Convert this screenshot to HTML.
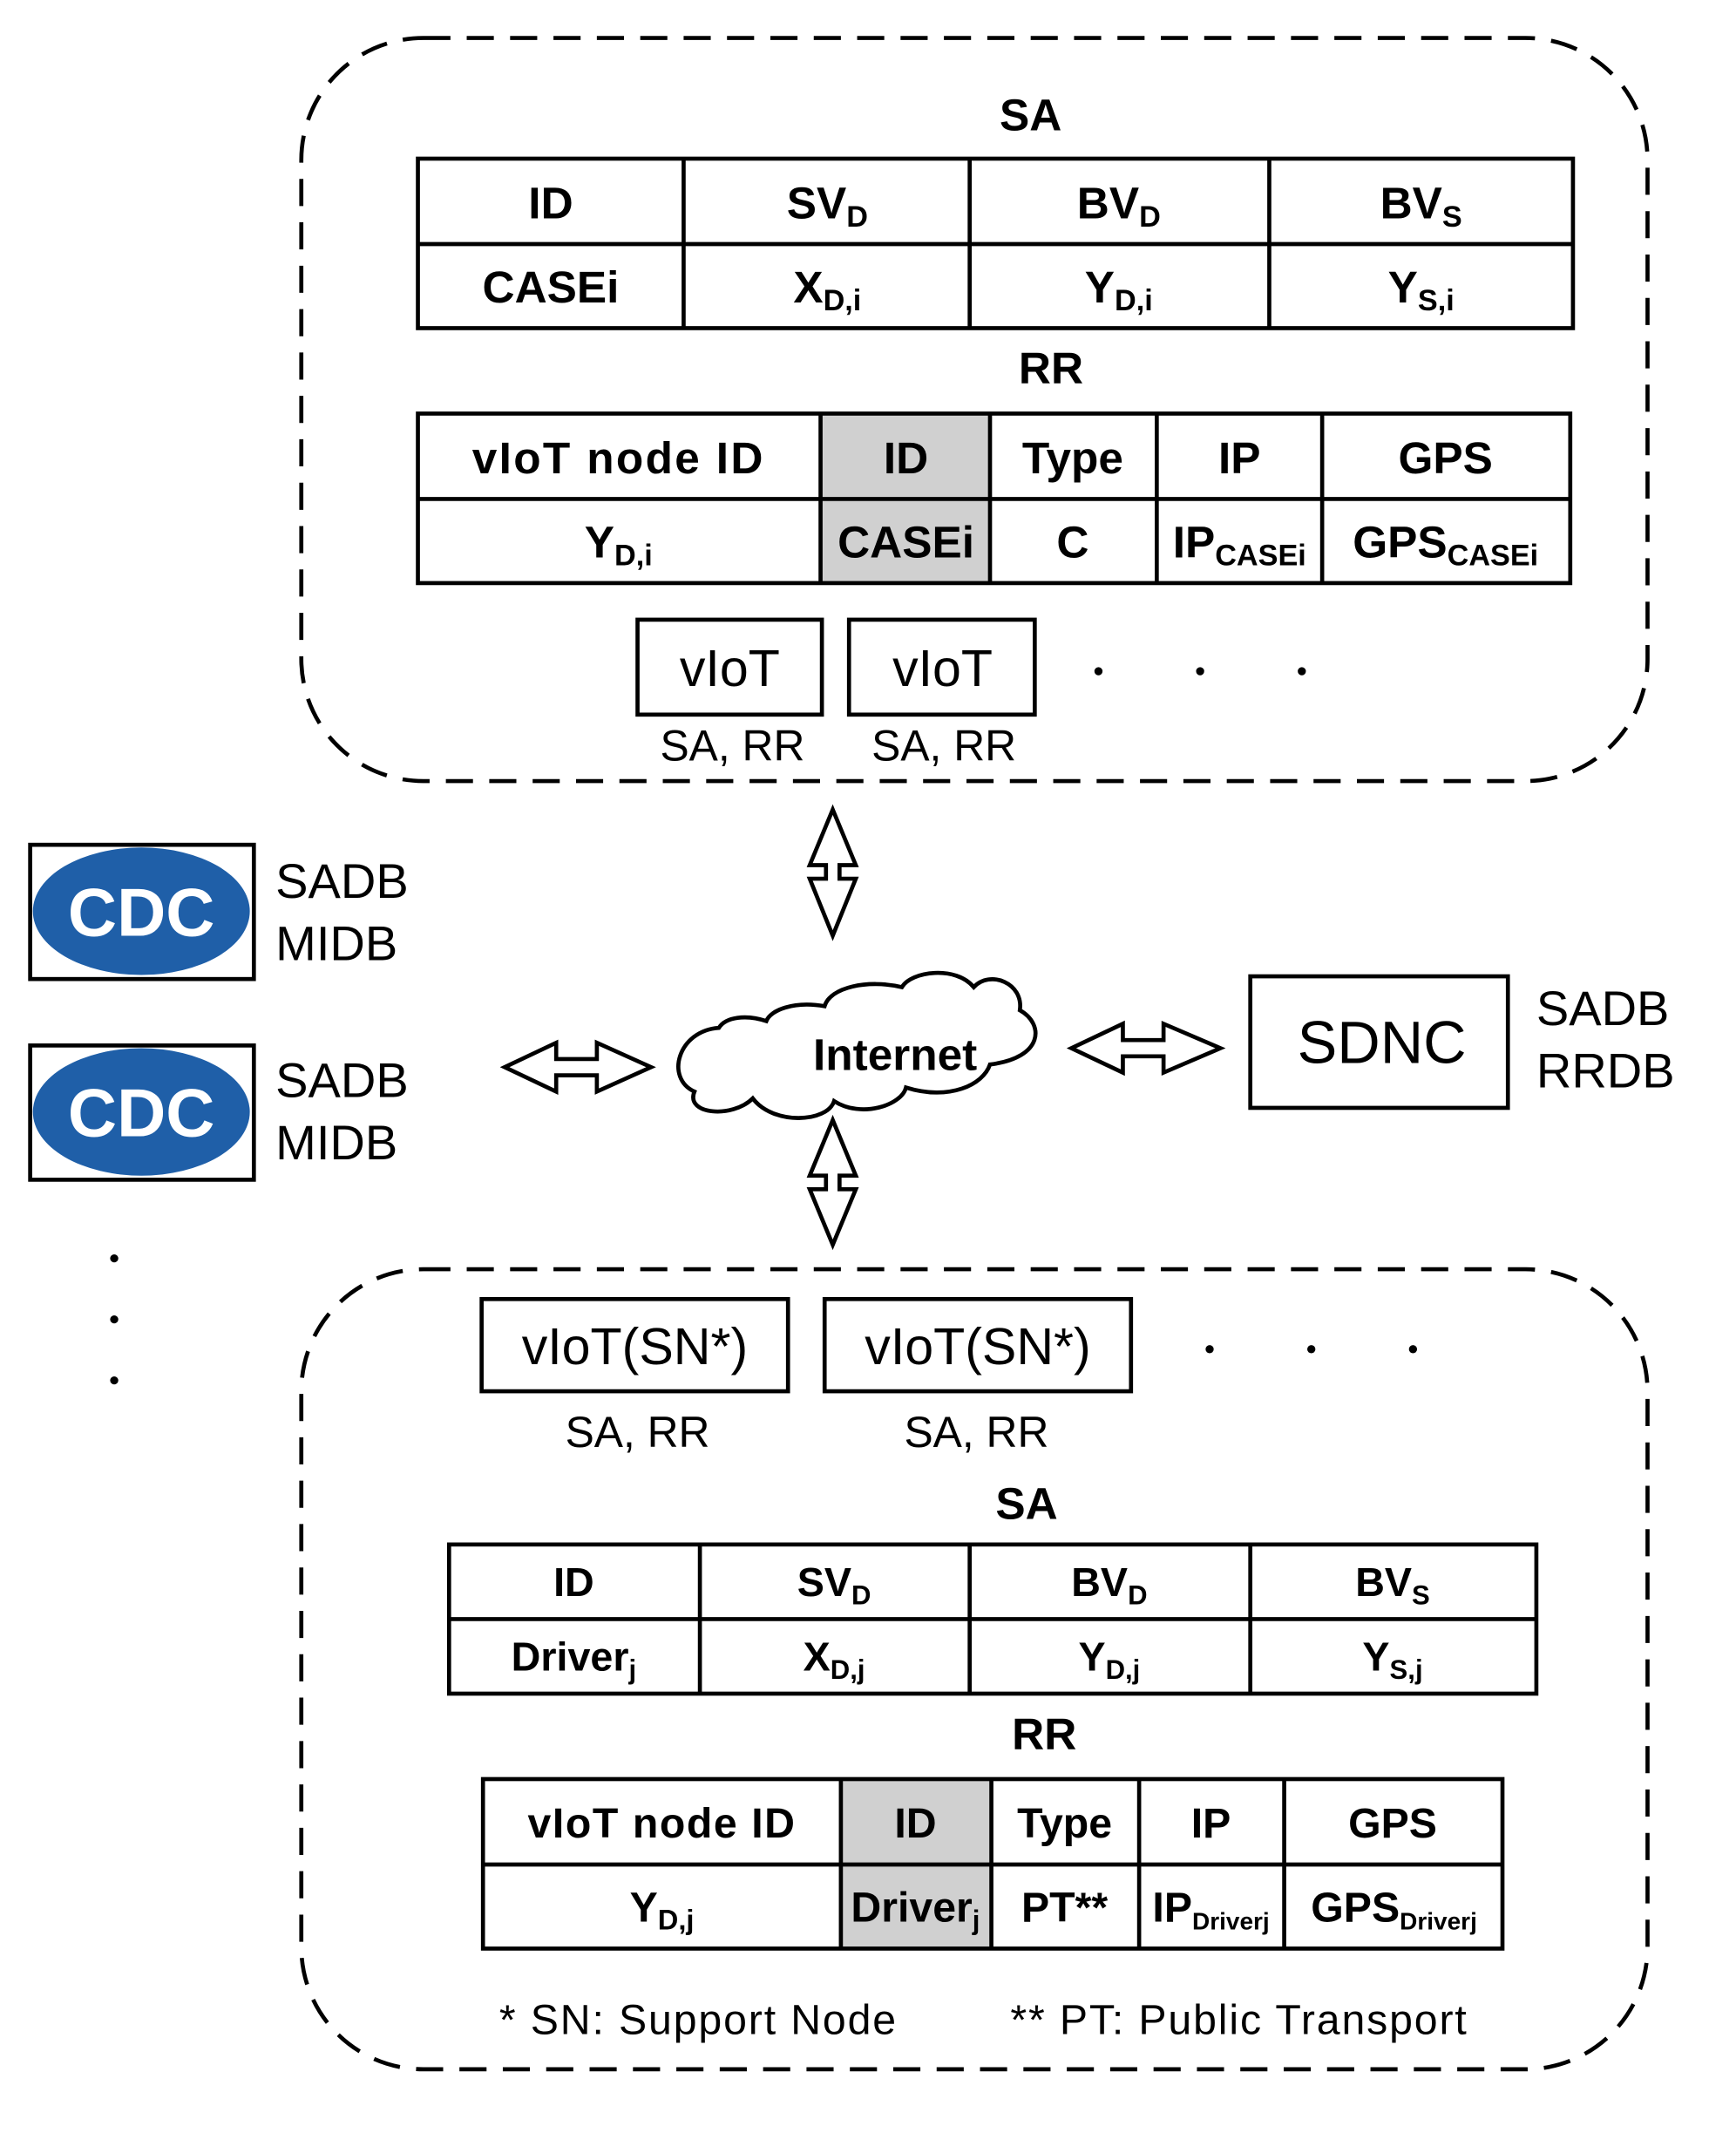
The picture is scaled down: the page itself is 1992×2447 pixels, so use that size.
<!DOCTYPE html>
<html><head><meta charset="utf-8"><style>
html,body{margin:0;padding:0;background:#fff}
svg{display:block}
text{font-family:"Liberation Sans",sans-serif;fill:#000}
.b{font-weight:bold;font-size:33px}
.s{font-size:22px}
</style></head><body>
<svg width="1992" height="2447" viewBox="0 0 1280 1573" xmlns="http://www.w3.org/2000/svg">
<g fill="none" stroke="#000" stroke-width="3" stroke-dasharray="20,12">
<rect x="222" y="28" width="993" height="548" rx="90"/>
<rect x="222" y="936" width="993" height="590" rx="90"/>
</g>
<text class="b" x="760" y="96" text-anchor="middle">SA</text>
<g fill="none" stroke="#000" stroke-width="3">
<rect x="308" y="117" width="852" height="125"/>
<line x1="308" y1="180" x2="1160" y2="180"/>
<line x1="504" y1="117" x2="504" y2="242"/><line x1="715" y1="117" x2="715" y2="242"/><line x1="936" y1="117" x2="936" y2="242"/>
</g>
<g text-anchor="middle">
<text class="b" x="406" y="161">ID</text>
<text class="b" x="610" y="161">SV<tspan class="s" dy="6">D</tspan></text>
<text class="b" x="825" y="161">BV<tspan class="s" dy="6">D</tspan></text>
<text class="b" x="1048" y="161">BV<tspan class="s" dy="6">S</tspan></text>
<text class="b" x="406" y="223">CASEi</text>
<text class="b" x="610" y="223">X<tspan class="s" dy="6">D,i</tspan></text>
<text class="b" x="825" y="223">Y<tspan class="s" dy="6">D,i</tspan></text>
<text class="b" x="1048" y="223">Y<tspan class="s" dy="6">S,i</tspan></text>
</g>
<text class="b" x="775" y="283" text-anchor="middle">RR</text>
<rect x="605" y="305" width="125" height="125" fill="#d0d0d0"/>
<g fill="none" stroke="#000" stroke-width="3">
<rect x="308" y="305" width="850" height="125"/>
<line x1="308" y1="368" x2="1158" y2="368"/>
<line x1="605" y1="305" x2="605" y2="430"/><line x1="730" y1="305" x2="730" y2="430"/><line x1="853" y1="305" x2="853" y2="430"/><line x1="975" y1="305" x2="975" y2="430"/>
</g>
<g text-anchor="middle">
<text class="b" x="456" y="349" letter-spacing="1.5">vIoT  node ID</text>
<text class="b" x="668" y="349">ID</text>
<text class="b" x="791" y="349">Type</text>
<text class="b" x="914" y="349">IP</text>
<text class="b" x="1066" y="349">GPS</text>
<text class="b" x="456" y="411">Y<tspan class="s" dy="6">D,i</tspan></text>
<text class="b" x="668" y="411">CASEi</text>
<text class="b" x="791" y="411">C</text>
<text class="b" x="914" y="411">IP<tspan class="s" dy="6">CASEi</tspan></text>
<text class="b" x="1066" y="411">GPS<tspan class="s" dy="6">CASEi</tspan></text>
</g>
<g fill="none" stroke="#000" stroke-width="3">
<rect x="470" y="457" width="136" height="70"/><rect x="626" y="457" width="137" height="70"/>
</g>
<g text-anchor="middle" font-size="38">
<text x="538" y="506">vIoT</text><text x="695" y="506">vIoT</text>
</g>
<g text-anchor="middle" font-size="32">
<text x="540" y="561">SA, RR</text><text x="696" y="561">SA, RR</text>
</g>
<g fill="#000"><circle cx="810" cy="495" r="3"/><circle cx="885" cy="495" r="3"/><circle cx="960" cy="495" r="3"/>
<circle cx="84" cy="928" r="3"/><circle cx="84" cy="973" r="3"/><circle cx="84" cy="1018" r="3"/>
<circle cx="892" cy="995" r="3"/><circle cx="967" cy="995" r="3"/><circle cx="1042" cy="995" r="3"/></g>
<g fill="#fff" stroke="#000" stroke-width="3" stroke-linejoin="miter">
<polygon points="614,597 631,638 619,638 619,648 631,648 614,690 597,648 609,648 609,638 597,638"/>
<polygon points="614,826 631,867 619,867 619,877 631,877 614,918 597,877 609,877 609,867 597,867"/>
<polygon points="372,787 410,769 410,781 440,781 440,769 480,787 440,805 440,793 410,793 410,805"/>
<polygon points="790,773 828,755 828,767 858,767 858,755 900,773 858,791 858,779 828,779 828,791"/>
<path d="M530,758 C500,760 490,795 512,805 C505,822 540,825 555,810 C570,830 610,828 615,812 C635,825 665,815 668,802 C700,812 725,800 730,785 C770,780 770,755 752,745 C755,725 730,715 718,728 C705,712 672,716 665,728 C640,722 612,728 608,742 C585,738 568,745 565,753 C550,748 535,750 530,758 Z"/>
</g>
<text class="b" x="660" y="789" text-anchor="middle" font-size="37">Internet</text>
<g>
<rect x="22" y="623" width="165" height="99" fill="#fff" stroke="#000" stroke-width="3"/>
<ellipse cx="104" cy="672" rx="80" ry="47" fill="#1f5fa8"/>
<text x="104" y="690" text-anchor="middle" font-size="50" font-weight="bold" style="fill:#fff">CDC</text>
<rect x="22" y="771" width="165" height="99" fill="#fff" stroke="#000" stroke-width="3"/>
<ellipse cx="104" cy="820" rx="80" ry="47" fill="#1f5fa8"/>
<text x="104" y="838" text-anchor="middle" font-size="50" font-weight="bold" style="fill:#fff">CDC</text>
</g>
<g font-size="36">
<text x="203" y="662">SADB</text><text x="203" y="708">MIDB</text>
<text x="203" y="809">SADB</text><text x="203" y="855">MIDB</text>
<text x="1133" y="756">SADB</text><text x="1133" y="802">RRDB</text>
</g>
<rect x="922" y="720" width="190" height="97" fill="none" stroke="#000" stroke-width="3"/>
<text x="1019" y="784" text-anchor="middle" font-size="44">SDNC</text>
<g fill="none" stroke="#000" stroke-width="3">
<rect x="355" y="958" width="226" height="68"/><rect x="608" y="958" width="226" height="68"/>
</g>
<g text-anchor="middle" font-size="38">
<text x="468" y="1006">vIoT(SN*)</text><text x="721" y="1006">vIoT(SN*)</text>
</g>
<g text-anchor="middle" font-size="32">
<text x="470" y="1067">SA, RR</text><text x="720" y="1067">SA, RR</text>
</g>
<text class="b" x="757" y="1120" text-anchor="middle" font-size="30">SA</text>
<g fill="none" stroke="#000" stroke-width="3">
<rect x="331" y="1139" width="802" height="110"/>
<line x1="331" y1="1194" x2="1133" y2="1194"/>
<line x1="516" y1="1139" x2="516" y2="1249"/><line x1="715" y1="1139" x2="715" y2="1249"/><line x1="922" y1="1139" x2="922" y2="1249"/>
</g>
<g text-anchor="middle" font-weight="bold" font-size="30">
<text x="423" y="1177">ID</text>
<text x="615" y="1177">SV<tspan font-size="20" dy="6">D</tspan></text>
<text x="818" y="1177">BV<tspan font-size="20" dy="6">D</tspan></text>
<text x="1027" y="1177">BV<tspan font-size="20" dy="6">S</tspan></text>
<text x="423" y="1232">Driver<tspan font-size="20" dy="6">j</tspan></text>
<text x="615" y="1232">X<tspan font-size="20" dy="6">D,j</tspan></text>
<text x="818" y="1232">Y<tspan font-size="20" dy="6">D,j</tspan></text>
<text x="1027" y="1232">Y<tspan font-size="20" dy="6">S,j</tspan></text>
</g>
<text class="b" x="770" y="1290" text-anchor="middle" font-size="30">RR</text>
<rect x="620" y="1312" width="111" height="125" fill="#d0d0d0"/>
<g fill="none" stroke="#000" stroke-width="3">
<rect x="356" y="1312" width="752" height="125"/>
<line x1="356" y1="1375" x2="1108" y2="1375"/>
<line x1="620" y1="1312" x2="620" y2="1437"/><line x1="731" y1="1312" x2="731" y2="1437"/><line x1="840" y1="1312" x2="840" y2="1437"/><line x1="947" y1="1312" x2="947" y2="1437"/>
</g>
<g text-anchor="middle" font-weight="bold" font-size="31">
<text x="488" y="1355" letter-spacing="1">vIoT  node ID</text>
<text x="675" y="1355">ID</text>
<text x="785" y="1355">Type</text>
<text x="893" y="1355">IP</text>
<text x="1027" y="1355">GPS</text>
<text x="488" y="1417">Y<tspan font-size="21" dy="6">D,j</tspan></text>
<text x="675" y="1417">Driver<tspan font-size="20" dy="6">j</tspan></text>
<text x="785" y="1417">PT**</text>
<text x="893" y="1417">IP<tspan font-size="18" dy="6">Driverj</tspan></text>
<text x="1028" y="1417">GPS<tspan font-size="18" dy="6">Driverj</tspan></text>
</g>
<g font-size="31" letter-spacing="1.2">
<text x="368" y="1500">* SN: Support Node</text>
<text x="745" y="1500">** PT: Public Transport</text>
</g>
</svg>
</body></html>
